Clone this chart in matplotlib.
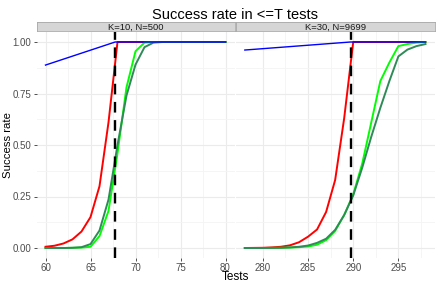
import numpy as np
import matplotlib
matplotlib.use("Agg")
import matplotlib.pyplot as plt

plt.rcParams["font.family"] = ["Liberation Sans", "DejaVu Sans"]

# panel 1: K=10, N=500
left_t = np.arange(60, 81)
left_red = [0.006, 0.011, 0.022, 0.042, 0.08, 0.15, 0.30, 0.61, 1, 1, 1, 1, 1, 1, 1, 1, 1, 1, 1, 1, 1]
left_lime = [0, 0, 0, 0.001, 0.002, 0.006, 0.058, 0.18, 0.46, 0.78, 0.955, 0.997, 1, 1, 1, 1, 1, 1, 1, 1, 1]
left_dg = [0, 0, 0, 0.001, 0.004, 0.019, 0.085, 0.235, 0.50, 0.74, 0.89, 0.975, 0.997, 1, 1, 1, 1, 1, 1, 1, 1]
left_vline = 67.74
left_blue_t = [60, left_vline, 80]
left_blue = [0.888, 1, 1]

# panel 2: K=30, N=9699
right_t = np.arange(278, 299)
right_red = [0, 0.0005, 0.001, 0.003, 0.006, 0.013, 0.028, 0.055, 0.09, 0.175, 0.33, 0.63, 1,
             1, 1, 1, 1, 1, 1, 1, 1]
right_lime = [0, 0, 0, 0.0005, 0.001, 0.002, 0.004, 0.007, 0.016, 0.038, 0.083, 0.16, 0.26,
              0.41, 0.61, 0.81, 0.90, 0.98, 0.99, 0.997, 1]
right_dg = [0, 0, 0, 0.0005, 0.001, 0.003, 0.006, 0.012, 0.025, 0.045, 0.088, 0.16, 0.255,
            0.39, 0.54, 0.68, 0.81, 0.93, 0.963, 0.98, 0.99]
right_vline = 289.7
right_blue_t = [278, right_vline, 298]
right_blue = [0.961, 1, 1]

panels = [
    ("K=10, N=500", left_t, left_red, left_lime, left_dg, left_blue_t, left_blue, left_vline,
     [60, 65, 70, 75, 80], (59, 81)),
    ("K=30, N=9699", right_t, right_red, right_lime, right_dg, right_blue_t, right_blue, right_vline,
     [280, 285, 290, 295], (277, 299)),
]

W, H = 443, 284
fig = plt.figure(figsize=(W / 100, H / 100), dpi=100)

def px_box(x0, y0, x1, y1):
    return [x0 / W, 1 - y1 / H, (x1 - x0) / W, (y1 - y0) / H]

boxes = [(36.5, 31.7, 234.5, 258.3), (235.8, 31.7, 434.5, 258.3)]
tick_col = "#4D4D4D"

for i, ((strip, t, red, lime, dg, bt, blue, vx, xticks, xlim), box) in enumerate(zip(panels, boxes)):
    ax = fig.add_axes(px_box(*box))
    ax.set_facecolor("white")
    for s in ax.spines.values():
        s.set_visible(False)
    ax.set_xlim(*xlim)
    ax.set_ylim(-0.05, 1.05)
    ax.set_xticks(xticks)
    ax.set_xticks([x + 2.5 for x in xticks[:-1]] + ([xticks[-1] + 2.5] if i == 1 else []), minor=True)
    ax.set_yticks([0, 0.25, 0.5, 0.75, 1.0])
    ax.set_yticks([0.125, 0.375, 0.625, 0.875], minor=True)
    ax.grid(which="major", color="#EBEBEB", lw=0.8)
    ax.grid(which="minor", color="#F4F4F4", lw=0.6)
    ax.set_axisbelow(True)
    ax.tick_params(which="minor", length=0)
    ax.tick_params(which="major", length=2.5, width=0.6, color="#333333", labelsize=7,
                   labelcolor=tick_col, pad=1.5)
    ax.tick_params(axis="x", pad=0.8)
    ax.set_xticklabels([str(x) for x in xticks])
    if i == 0:
        ax.set_yticklabels(["0.00", "0.25", "0.50", "0.75", "1.00"])
    else:
        ax.tick_params(axis="y", length=0, labelleft=False)

    ax.plot(t, red, color="red", lw=1.4, solid_joinstyle="round")
    ax.plot(t, lime, color="#00FF00", lw=1.4, solid_joinstyle="round")
    ax.plot(t, dg, color="#2E8B57", lw=1.4, solid_joinstyle="round")
    ax.plot(bt, blue, color="blue", lw=1.0)
    ax.axvline(vx, color="black", lw=1.7, dashes=(4.5, 3.2))

    # facet strip
    sx0, _, sx1, _ = box
    sax = fig.add_axes(px_box(sx0, 22.3, sx1, 31.2))
    sax.set_facecolor("#D6D6D6")
    for s in sax.spines.values():
        s.set_color("#A8A8A8")
        s.set_linewidth(0.6)
    sax.set_xticks([])
    sax.set_yticks([])
    sax.text(0.5, 0.45, strip, ha="center", va="center", fontsize=6.8, color="#1A1A1A",
             transform=sax.transAxes)

fig.text(235.5 / W, 1 - 15 / H, "Success rate in <=T tests", ha="center", va="center", fontsize=10.5)
fig.text(235.5 / W, 1 - 276.5 / H, "Tests", ha="center", va="center", fontsize=8.5)
fig.text(8.5 / W, 1 - 145 / H, "Success rate", ha="center", va="center", rotation=90, fontsize=8.2)

fig.savefig("out.png", dpi=100)
